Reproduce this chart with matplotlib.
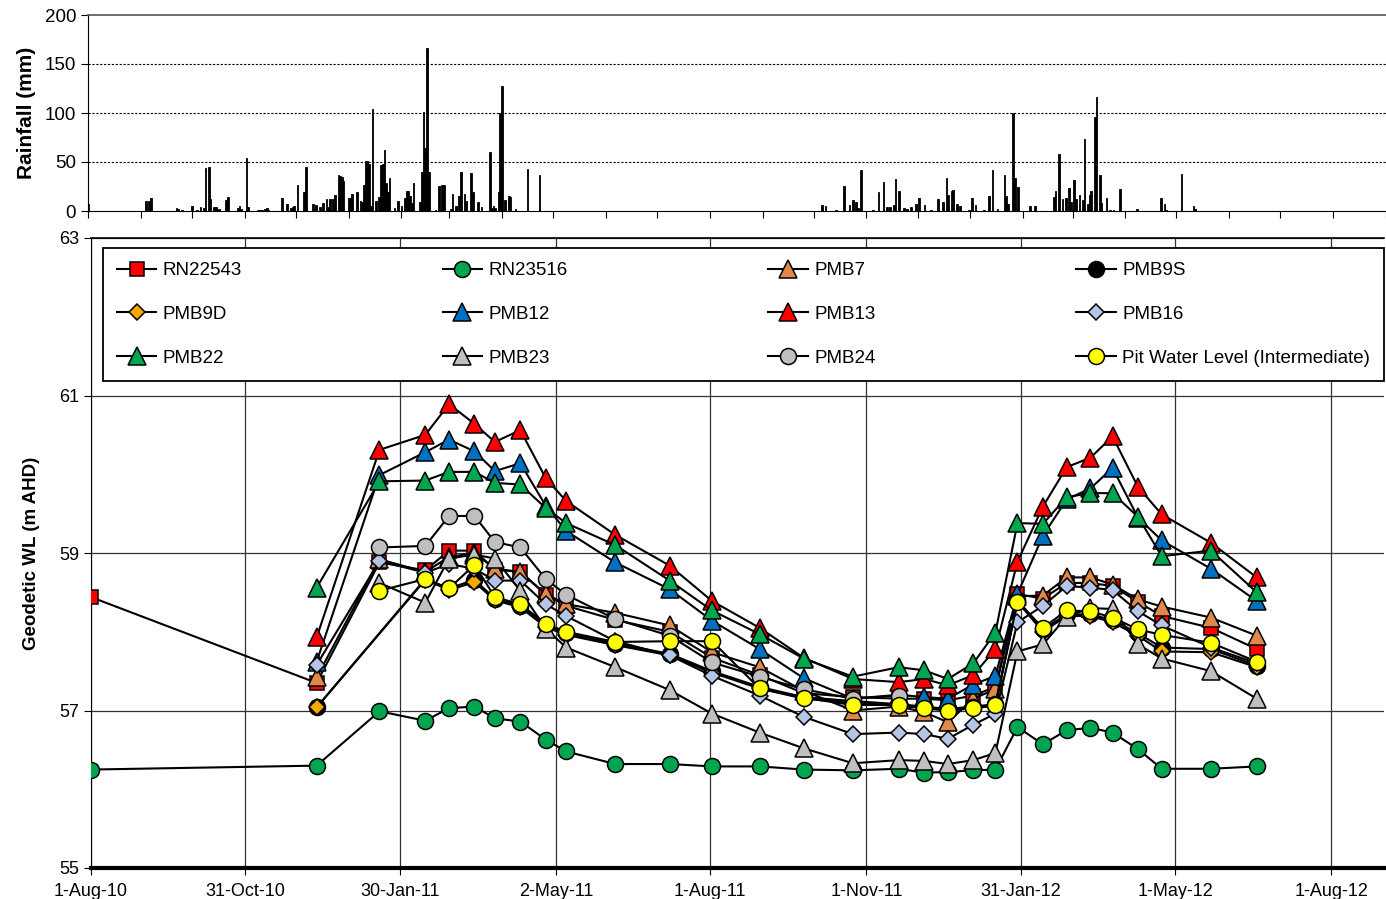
import numpy as np
import pandas as pd
import matplotlib
matplotlib.use("Agg")
import matplotlib.pyplot as plt
import matplotlib.dates as mdates

plt.rcParams['font.family'] = ['Liberation Sans', 'DejaVu Sans']

# ---- daily rainfall (day number from 1-Aug-10, mm) ----
rain_day = [0, 34, 36, 37, 52, 53, 55, 61, 64, 66, 68, 69, 71, 72, 74, 75, 77, 81, 82, 88, 89, 90,
            93, 94, 100, 101, 102, 104, 105, 106, 114, 117, 119, 120, 121, 123, 127, 128, 132, 134,
            136, 138, 140, 141, 142, 144, 145, 147, 148, 149, 150, 153, 154, 155, 158, 160, 161, 162,
            163, 164, 165, 166, 167, 169, 171, 172, 173, 174, 175, 176, 177, 180, 182, 184, 186, 187,
            188, 189, 190, 191, 195, 196, 197, 198, 199, 200, 204, 206, 208, 209, 213, 214, 216, 218,
            219, 221, 222, 225, 226, 229, 231, 236, 237, 238, 239, 241, 242, 243, 245, 247, 248, 251,
            258, 265,
            431, 433, 439, 444, 447, 449, 451, 452, 454, 461, 464, 467, 469, 471, 473, 474, 476, 479,
            481, 483, 486, 488, 491, 495, 499, 502, 504, 505, 507, 508, 510, 512, 517, 519, 521, 526,
            529, 531, 534, 538, 539, 540, 543, 544, 546, 553, 556, 567, 568, 570, 572, 574, 576, 577,
            579, 580, 582, 584, 585, 587, 588, 589, 591, 592, 594, 595, 598, 600, 602, 606, 616, 630,
            632, 633, 642, 649, 650]
rain_mm = [7, 10, 10, 13, 3, 2, 1, 5, 1, 4, 3, 44, 45, 12, 4, 4, 2, 11, 14, 3, 5, 2,
           54, 4, 1, 1, 1, 2, 3, 1, 13, 7, 3, 4, 5, 27, 19, 45, 7, 6,
           4, 8, 12, 4, 12, 12, 16, 37, 36, 35, 31, 13, 13, 17, 19, 10, 9, 27,
           51, 51, 48, 5, 104, 10, 14, 47, 48, 62, 29, 19, 34, 3, 10, 5, 13, 20,
           20, 15, 8, 29, 9, 40, 101, 64, 166, 40, 1, 26, 27, 27, 2, 17, 5, 15,
           40, 17, 10, 39, 19, 9, 4, 60, 3, 5, 3, 19, 100, 128, 11, 15, 14, 2,
           43, 37,
           6, 5, 1, 26, 6, 11, 9, 3, 42, 1, 19, 30, 4, 4, 6, 33, 20, 3,
           2, 4, 7, 13, 6, 1, 12, 9, 34, 16, 20, 21, 7, 5, 1, 13, 6, 1,
           15, 42, 2, 37, 15, 7, 100, 34, 24, 5, 5, 14, 20, 58, 12, 13, 23, 9,
           32, 12, 16, 11, 73, 7, 16, 20, 96, 116, 37, 8, 13, 1, 1, 22, 2, 13,
           7, 1, 38, 5, 2]

# ---- groundwater levels (m AHD) ----
dates = ['2010-08-01', '2010-12-12', '2011-01-18', '2011-02-14', '2011-02-28', '2011-03-15',
         '2011-03-27', '2011-04-11', '2011-04-26', '2011-05-08', '2011-06-06', '2011-07-08',
         '2011-08-02', '2011-08-30', '2011-09-25', '2011-10-24', '2011-11-20', '2011-12-05',
         '2011-12-19', '2012-01-03', '2012-01-16', '2012-01-29', '2012-02-13', '2012-02-27',
         '2012-03-12', '2012-03-25', '2012-04-09', '2012-04-23', '2012-05-22', '2012-06-18']
nan = np.nan
rn22543 = [58.44, 57.35, 58.88, 58.78, 59.03, 59.03, 58.79, 58.76, 58.47, 58.33, 58.15, 58.0, 57.67, 57.45, 57.22,
           57.17, 57.15, 57.15, 57.13, 57.19, 57.3, 58.48, 58.42, 58.62, 58.62, 58.58, 58.38, 58.20, 58.05, 57.78]
rn23516 = [56.25, 56.30, 56.99, 56.87, 57.03, 57.05, 56.90, 56.86, 56.63, 56.48, 56.32, 56.32, 56.29, 56.29, 56.25,
           56.24, 56.26, 56.21, 56.22, 56.24, 56.25, 56.79, 56.57, 56.75, 56.78, 56.72, 56.51, 56.26, 56.26, 56.29]
pmb7 = [nan, 57.42, 58.92, 58.76, 58.95, 59.0, 58.80, 58.76, 58.48, 58.35, 58.24, 58.08, 57.74, 57.55, 57.25,
        57.0, 57.05, 56.98, 56.85, 57.15, 57.27, 58.45, 58.46, 58.69, 58.69, 58.60, 58.41, 58.32, 58.18, 57.95]
pmb9s = [nan, 57.04, nan, 58.67, 58.55, 58.66, 58.42, 58.33, 58.08, 57.98, 57.85, 57.72, 57.50, 57.30, 57.17,
         57.12, 57.08, 57.05, 57.02, 57.05, 57.08, 58.40, 58.03, 58.22, 58.22, 58.15, 57.98, 57.80, 57.78, 57.57]
pmb9d = [nan, 57.04, nan, 58.66, 58.53, 58.63, 58.40, 58.31, 58.06, 57.96, 57.83, 57.70, 57.48, 57.28, 57.15,
         57.10, 57.06, 57.03, 57.00, 57.03, 57.06, 58.38, 58.00, 58.20, 58.20, 58.12, 57.95, 57.75, 57.74, 57.55]
pmb12 = [nan, 57.62, 59.99, 60.28, 60.44, 60.29, 60.04, 60.14, 59.60, 59.28, 58.88, 58.54, 58.14, 57.78, 57.41,
         57.15, 57.20, 57.17, 57.15, 57.33, 57.44, 58.48, 59.22, 59.68, 59.82, 60.08, 59.45, 59.16, 58.80, 58.39]
pmb13 = [nan, 57.93, 60.31, 60.50, 60.89, 60.64, 60.41, 60.56, 59.95, 59.66, 59.23, 58.84, 58.39, 58.05, 57.67,
         57.40, 57.36, 57.40, 57.32, 57.45, 57.78, 58.89, 59.59, 60.09, 60.21, 60.48, 59.84, 59.49, 59.13, 58.69]
pmb16 = [nan, 57.58, 58.90, 58.75, 58.86, 58.80, 58.65, 58.65, 58.35, 58.20, 57.88, 57.70, 57.44, 57.19, 56.92,
         56.70, 56.72, 56.70, 56.64, 56.82, 56.96, 58.12, 58.33, 58.58, 58.56, 58.53, 58.26, 58.08, 57.80, 57.60]
pmb22 = [nan, 58.56, 59.91, 59.92, 60.03, 60.03, 59.89, 59.87, 59.57, 59.38, 59.10, 58.65, 58.27, 57.97, 57.66,
         57.43, 57.55, 57.51, 57.40, 57.60, 57.99, 59.38, 59.37, 59.71, 59.76, 59.76, 59.46, 58.96, 59.03, 58.50]
pmb23 = [nan, nan, 58.62, 58.37, 58.93, 58.98, 58.93, 58.52, 58.04, 57.80, 57.55, 57.26, 56.96, 56.72, 56.52,
         56.33, 56.37, 56.36, 56.32, 56.37, 56.46, 57.75, 57.84, 58.19, 58.30, 58.29, 57.84, 57.66, 57.50, 57.15]
pmb24 = [nan, nan, 59.07, 59.09, 59.47, 59.47, 59.14, 59.07, 58.67, 58.47, 58.16, 57.95, 57.61, 57.43, 57.27,
         57.15, 57.19, nan, nan, nan, nan, nan, nan, nan, nan, nan, nan, nan, nan, nan]
pit = [nan, nan, 58.52, 58.67, 58.55, 58.85, 58.44, 58.35, 58.10, 58.00, 57.87, 57.88, 57.88, 57.28, 57.16,
       57.07, 57.07, 57.03, 57.00, 57.03, 57.07, 58.38, 58.05, 58.27, 58.26, 58.18, 58.03, 57.96, 57.86, 57.62]

series_names = ['RN22543', 'RN23516', 'PMB7', 'PMB9S', 'PMB9D', 'PMB12', 'PMB13', 'PMB16',
                'PMB22', 'PMB23', 'PMB24', 'Pit Water Level (Intermediate)']
series_vals = [rn22543, rn23516, pmb7, pmb9s, pmb9d, pmb12, pmb13, pmb16, pmb22, pmb23, pmb24, pit]
series_marker = ['s', 'o', '^', 'o', 'D', '^', '^', 'D', '^', '^', 'o', 'o']
series_color = ['#ff0000', '#00a550', '#e0894a', '#000000', '#f5a800', '#0070c0', '#ff0000', '#b4c6e7',
                '#00a550', '#bfbfbf', '#bfbfbf', '#ffff00']
marker_size = {'s': 9.5, 'o': 11.5, '^': 12.5, 'D': 8.5}

tick_labels = ['1-Aug-10', '31-Oct-10', '30-Jan-11', '2-May-11', '1-Aug-11',
               '1-Nov-11', '31-Jan-12', '1-May-12', '1-Aug-12']

x_start = pd.Timestamp('2010-08-01')
x_end = pd.Timestamp('2012-09-01')

fig = plt.figure(figsize=(13.86, 8.99), dpi=100)

# ---- rainfall panel ----
ax_r = fig.add_axes([88 / 1386, 1 - 211 / 899, (1386 - 88) / 1386, (211 - 15) / 899])
rdates = x_start + pd.to_timedelta(rain_day, unit='D')
ax_r.bar(rdates, rain_mm, width=1.0, color='black', edgecolor='black', linewidth=0.6, zorder=3)
ax_r.set_xlim(x_start, x_end)
ax_r.set_ylim(0, 200)
ax_r.set_yticks([0, 50, 100, 150, 200])
ax_r.tick_params(axis='y', labelsize=13.5, length=5)
for v in [50, 100, 150]:
    ax_r.axhline(v, color='black', linestyle=(0, (2, 1.5)), linewidth=0.8, zorder=1)
ax_r.xaxis.set_major_locator(mdates.MonthLocator())
ax_r.tick_params(axis='x', labelbottom=False, length=5, direction='out')
ax_r.spines['right'].set_visible(False)
ax_r.spines['top'].set_color('#555555')
ax_r.spines['top'].set_linewidth(1.2)
ax_r.set_ylabel('Rainfall (mm)', fontsize=15, fontweight='bold', labelpad=6)

# ---- groundwater level panel ----
ax = fig.add_axes([91 / 1386, 1 - 868 / 899, (1384 - 91) / 1386, (868 - 238) / 899])
wl_dates = pd.to_datetime(dates)
handles = []
for name, vals, mk, col in zip(series_names, series_vals, series_marker, series_color):
    v = np.array(vals, dtype=float)
    ok = ~np.isnan(v)
    h, = ax.plot(wl_dates[ok], v[ok], color='black', linewidth=1.5, marker=mk,
                 markersize=marker_size[mk], markerfacecolor=col, markeredgecolor='black',
                 markeredgewidth=1.1, label=name, zorder=3)
    handles.append(h)

tick_dates = [pd.to_datetime(t, format='%d-%b-%y') for t in tick_labels]
ax.set_xticks(tick_dates)
ax.set_xticklabels(tick_labels)
ax.set_xlim(x_start, x_end)
ax.set_ylim(55, 63)
ax.set_yticks([55, 57, 59, 61, 63])
ax.tick_params(axis='both', labelsize=13, length=5)
ax.tick_params(axis='x', pad=6)
ax.grid(True, color='#333333', linewidth=0.9, zorder=0)
ax.set_axisbelow(True)
ax.spines['right'].set_visible(False)
ax.spines['bottom'].set_linewidth(3.0)
ax.spines['top'].set_linewidth(1.2)
ax.set_ylabel('Geodetic WL (m AHD)', fontsize=13.5, fontweight='bold', labelpad=14)

# legend filled row by row like the original
order = [0, 4, 8, 1, 5, 9, 2, 6, 10, 3, 7, 11]
leg = ax.legend([handles[i] for i in order], [series_names[i] for i in order],
                ncol=4, mode='expand', loc='upper left',
                bbox_to_anchor=(12 / 1293, 1 - 143 / 630, 1 - 12 / 1293, 133 / 630),
                borderaxespad=0, fontsize=13.5, frameon=True, fancybox=False,
                framealpha=1, edgecolor='black', handlelength=2.1, labelspacing=1.42,
                handletextpad=0.35, borderpad=0.75)
leg.get_frame().set_linewidth(1.3)
leg.set_zorder(5)

fig.savefig('out.png', dpi=100)
